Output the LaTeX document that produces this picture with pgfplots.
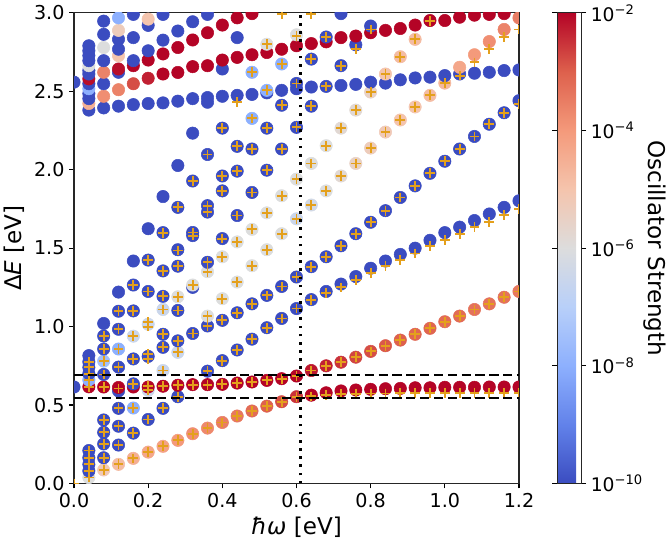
\documentclass[border=0pt]{standalone}
\usepackage{fontspec}
\setmainfont{DejaVu Sans}
\usepackage{pgfplots}
\pgfplotsset{compat=1.18}
\definecolor{plusc}{RGB}{228,160,28}
\begin{document}
\begin{tikzpicture}
\begin{axis}[
  scale only axis, width=337.5pt, height=357pt,
  xmin=0, xmax=1.2, ymin=0, ymax=3,
  clip marker paths=true,
  xtick={0,0.2,0.4,0.6,0.8,1.0,1.2}, xticklabels={0.0,0.2,0.4,0.6,0.8,1.0,1.2},
  ytick={0,0.5,1,1.5,2,2.5,3}, yticklabels={0.0,0.5,1.0,1.5,2.0,2.5,3.0},
  tick align=outside, tick pos=left, major tick length=3.75pt,
  tick style={line width=0.9pt, black},
  axis line style={line width=0.9pt, black!85},
  tick label style={font=\fontsize{14.5}{16}\selectfont},
  label style={font=\fontsize{17.5}{20}\selectfont},
  xlabel={{\itshape ħω} [eV]}, ylabel={Δ{\itshape E} [eV]},
  colormap={coolwarm}{rgb=(0.230,0.299,0.754) rgb=(0.383,0.509,0.917) rgb=(0.553,0.689,0.995) rgb=(0.722,0.814,0.977) rgb=(0.865,0.865,0.866) rgb=(0.959,0.770,0.678) rgb=(0.958,0.603,0.482) rgb=(0.869,0.378,0.300) rgb=(0.706,0.016,0.150)},
  point meta min=-10, point meta max=-2,
  colorbar,
  colorbar style={width=18.2pt, at={(parent axis.north east)}, anchor=north west, xshift=20.5pt,
    ytick={-10,-8,-6,-4,-2},
    yticklabels={10\textsuperscript{−10},10\textsuperscript{−8},10\textsuperscript{−6},10\textsuperscript{−4},10\textsuperscript{−2}},
    yticklabel pos=right, ylabel near ticks,
    ylabel={Oscillator Strength}, ylabel style={rotate=180, inner sep=0pt, yshift=-3pt},
    tick align=outside, major tick length=3.75pt,
    tick style={line width=0.9pt, black},
    axis line style={line width=0.9pt, black!85},
    tick label style={font=\fontsize{14.2}{16}\selectfont},
    label style={font=\fontsize{17.5}{20}\selectfont}},
]
\addplot[scatter, only marks, mark=*, mark size=4.7pt, point meta=explicit,
  scatter/use mapped color={draw=mapped color, fill=mapped color}]
  table[meta=c] {
x y c
0 0.615 -10
0 2.558 -10
0.04 0.038 -6
0.04 0.08 -10
0.04 0.122 -10
0.04 0.164 -10
0.04 0.21 -10
0.04 0.616 -2
0.04 0.66 -8
0.04 0.70 -10
0.04 0.74 -10
0.04 0.775 -10
0.04 0.815 -10
0.04 2.38 -10
0.04 2.422 -4.5
0.04 2.453 -10
0.04 2.485 -10
0.04 2.516 -8
0.04 2.548 -10
0.04 2.579 -2.1
0.04 2.61 -10
0.04 2.632 -10
0.04 2.663 -6
0.04 2.695 -10
0.04 2.727 -10
0.04 2.758 -10
0.04 2.79 -10
0.08 0.086 -5.2
0.08 0.164 -10
0.08 0.252 -10
0.08 0.326 -10
0.08 0.405 -10
0.08 0.615 -2
0.08 0.695 -10
0.08 0.78 -7.5
0.08 0.857 -10
0.08 0.94 -10
0.08 1.02 -10
0.08 2.394 -10
0.08 2.468 -3.8
0.08 2.548 -10
0.08 2.621 -3.6
0.08 2.695 -10
0.08 2.779 -6
0.08 2.863 -10
0.08 2.947 -10
0.12 0.122 -4.8
0.12 0.245 -10
0.12 0.365 -10
0.12 0.479 -10
0.12 0.59 -10
0.12 0.612 -2
0.12 0.742 -10
0.12 0.857 -8
0.12 0.983 -10
0.12 1.098 -10
0.12 1.22 -10
0.12 2.405 -10
0.12 2.51 -3.6
0.12 2.621 -10
0.12 2.642 -2.1
0.12 2.727 -5
0.12 2.768 -10
0.12 2.831 -10
0.12 2.888 -5.3
0.12 2.968 -8
0.16 0.16 -4.5
0.16 0.321 -10
0.16 0.481 -8
0.16 0.615 -2
0.16 0.635 -10
0.16 0.794 -10
0.16 0.939 -6.5
0.16 1.10 -10
0.16 1.265 -10
0.16 1.418 -10
0.16 2.415 -10
0.16 2.548 -2.8
0.16 2.663 -2
0.16 2.695 -10
0.16 2.842 -10
0.16 2.99 -10
0.16 3.01 -5
0.2 0.2 -4.3
0.2 0.408 -10
0.2 0.594 -6.5
0.2 0.615 -2
0.2 0.81 -10
0.2 1.015 -6.5
0.2 1.224 -10
0.2 1.424 -10
0.2 1.624 -10
0.2 2.422 -10
0.2 2.583 -2.3
0.2 2.699 -2
0.2 2.758 -10
0.2 2.92 -10
0.2 2.96 -5
0.24 0.237 -4.2
0.24 0.479 -10
0.24 0.62 -2
0.24 0.72 -6.5
0.24 0.868 -10
0.24 0.951 -10
0.24 1.109 -6.5
0.24 1.193 -10
0.24 1.355 -10
0.24 1.599 -10
0.24 1.829 -10
0.24 2.426 -10
0.24 2.61 -2
0.24 2.738 -2
0.24 2.826 -10
0.24 2.99 -10
0.28 0.275 -4
0.28 0.553 -10
0.28 0.626 -2
0.28 0.836 -6.5
0.28 0.909 -10
0.28 1.103 -10
0.28 1.19 -6
0.28 1.385 -10
0.28 1.49 -10
0.28 1.76 -10
0.28 2.027 -10
0.28 2.437 -10
0.28 2.62 -2
0.28 2.779 -2
0.28 2.884 -10
0.32 0.317 -3.8
0.32 0.63 -2
0.32 0.956 -10
0.32 1.25 -10
0.32 1.265 -6
0.32 1.58 -10
0.32 1.60 -10
0.32 1.928 -10
0.32 2.233 -10
0.32 2.453 -10
0.32 2.657 -2
0.32 2.827 -2
0.32 2.943 -10
0.36 0.353 -3.7
0.36 0.63 -2
0.36 0.716 -10
0.36 1.004 -10
0.36 1.067 -6
0.36 1.35 -6
0.36 1.41 -10
0.36 1.73 -10
0.36 1.771 -10
0.36 2.097 -10
0.36 2.43 -10
0.36 2.46 -10
0.36 2.663 -2
0.36 2.873 -2
0.36 2.99 -10
0.4 0.389 -3.5
0.4 0.632 -2
0.4 0.783 -10
0.4 1.04 -10
0.4 1.178 -6
0.4 1.445 -6
0.4 1.561 -10
0.4 1.865 -10
0.4 1.96 -10
0.4 2.265 -10
0.4 2.468 -10
0.4 2.642 -10
0.4 2.699 -2
0.4 2.922 -2
0.44 0.43 -3.4
0.44 0.64 -2
0.44 0.851 -10
0.44 1.088 -10
0.44 1.284 -6
0.44 1.54 -6
0.44 1.708 -10
0.44 1.991 -10
0.44 2.149 -10
0.44 2.474 -10
0.44 2.716 -2
0.44 2.842 -10
0.44 2.968 -2
0.48 0.462 -3.2
0.48 0.647 -2
0.48 0.92 -10
0.48 1.145 -10
0.48 1.388 -6
0.48 1.62 -6
0.48 1.855 -10
0.48 2.132 -10
0.48 2.327 -8
0.48 2.48 -10
0.48 2.621 -8
0.48 2.733 -2
0.48 2.995 -2
0.52 0.493 -3
0.52 0.657 -2
0.52 0.993 -10
0.52 1.199 -10
0.52 1.49 -6
0.52 1.725 -6
0.52 1.997 -10
0.52 2.265 -10
0.52 2.49 -10
0.52 2.506 -8
0.52 2.747 -2
0.52 2.80 -6
0.56 0.521 -2.8
0.56 0.668 -2
0.56 1.052 -10
0.56 1.256 -10
0.56 1.592 -6
0.56 1.834 -6
0.56 2.132 -10
0.56 2.411 -10
0.56 2.506 -10
0.56 2.674 -8
0.56 2.768 -2
0.6 0.553 -2.5
0.6 0.685 -2
0.6 1.115 -10
0.6 1.316 -10
0.6 1.687 -6.5
0.6 1.94 -6
0.6 2.27 -10
0.6 2.516 -10
0.6 2.55 -10
0.6 2.79 -2
0.6 2.86 -6
0.64 0.563 -2
0.64 0.72 -2.2
0.64 1.172 -10
0.64 1.382 -10
0.64 1.775 -6.3
0.64 2.04 -6
0.64 2.405 -10
0.64 2.527 -10
0.64 2.705 -10
0.64 2.804 -2
0.68 0.578 -2
0.68 0.75 -2.3
0.68 1.224 -10
0.68 1.445 -10
0.68 1.865 -6
0.68 2.153 -6
0.68 2.531 -10
0.68 2.815 -2
0.68 2.846 -10
0.72 0.59 -2
0.72 0.773 -2.5
0.72 1.271 -10
0.72 1.515 -10
0.72 1.96 -5.8
0.72 2.265 -5.8
0.72 2.537 -10
0.72 2.663 -10
0.72 2.842 -2
0.72 2.995 -10
0.76 0.596 -2
0.76 0.805 -2.7
0.76 1.319 -10
0.76 1.592 -10
0.76 2.04 -5.5
0.76 2.38 -5.8
0.76 2.544 -10
0.76 2.796 -10
0.76 2.852 -2
0.80 0.60 -2
0.80 0.842 -2.8
0.80 1.372 -10
0.80 1.665 -10
0.80 2.138 -5.3
0.80 2.495 -5.5
0.80 2.558 -10
0.80 2.873 -2
0.80 2.916 -10
0.84 0.604 -2
0.84 0.878 -2.9
0.84 1.418 -10
0.84 1.739 -10
0.84 2.24 -5.2
0.84 2.552 -10
0.84 2.61 -5
0.84 2.888 -2
0.88 0.606 -2
0.88 0.914 -3
0.88 1.46 -10
0.88 1.823 -10
0.88 2.317 -5
0.88 2.573 -10
0.88 2.72 -4.8
0.88 2.90 -2
0.92 0.61 -2
0.92 0.951 -3.1
0.92 1.50 -10
0.92 1.897 -10
0.92 2.40 -5
0.92 2.585 -10
0.92 2.831 -4.8
0.92 2.922 -2
0.96 0.61 -2
0.96 0.989 -3.1
0.96 1.55 -10
0.96 1.977 -10
0.96 2.474 -4.8
0.96 2.59 -10
0.96 2.951 -2
1.0 0.613 -2
1.0 1.031 -3.2
1.0 1.599 -10
1.0 2.054 -10
1.0 2.552 -4.7
1.0 2.60 -10
1.0 2.951 -2
1.04 0.613 -2
1.04 1.067 -3.2
1.04 1.634 -10
1.04 2.132 -10
1.04 2.61 -10
1.04 2.653 -4.3
1.04 2.972 -2
1.08 0.613 -2
1.08 1.109 -3.3
1.08 1.676 -10
1.08 2.212 -10
1.08 2.615 -10
1.08 2.733 -4
1.08 2.985 -2
1.12 0.615 -2
1.12 1.145 -3.3
1.12 1.718 -10
1.12 2.29 -10
1.12 2.621 -10
1.12 2.817 -3.8
1.12 2.99 -2
1.16 0.615 -2
1.16 1.187 -3.3
1.16 1.76 -10
1.16 2.363 -10
1.16 2.632 -10
1.16 2.894 -3.6
1.16 2.995 -2
1.2 0.615 -2
1.2 1.224 -3.4
1.2 1.802 -10
1.2 2.44 -10
1.2 2.636 -10
1.2 2.968 -3.5
};
\addplot[only marks, mark=+, mark size=3.7pt, plusc, mark options={line width=1.4pt}]
  table {
0 0
0.04 0.038
0.04 0.08
0.04 0.122
0.04 0.164
0.04 0.21
0.04 0.616
0.04 0.66
0.04 0.70
0.04 0.74
0.04 0.775
0.08 0.086
0.08 0.164
0.08 0.252
0.08 0.326
0.08 0.405
0.08 0.615
0.08 0.695
0.08 0.78
0.08 0.857
0.08 0.94
0.12 0.122
0.12 0.245
0.12 0.365
0.12 0.479
0.12 0.605
0.12 0.742
0.12 0.857
0.12 0.983
0.12 1.098
0.16 0.16
0.16 0.321
0.16 0.481
0.16 0.635
0.16 0.794
0.16 0.939
0.16 1.10
0.16 1.265
0.2 0.2
0.2 0.408
0.2 0.594
0.2 0.62
0.2 0.795
0.2 0.825
0.2 1.0
0.2 1.03
0.2 1.224
0.2 1.424
0.24 0.237
0.24 0.479
0.24 0.62
0.24 0.72
0.24 0.868
0.24 0.951
0.24 1.109
0.24 1.193
0.24 1.355
0.24 1.599
0.28 0.275
0.28 0.553
0.28 0.626
0.28 0.836
0.28 0.909
0.28 1.103
0.28 1.19
0.28 1.385
0.28 1.485
0.28 1.76
0.32 0.317
0.32 0.63
0.32 0.956
0.32 1.265
0.32 1.58
0.32 1.60
0.32 1.928
0.36 0.353
0.36 0.63
0.36 0.716
0.36 1.004
0.36 1.067
0.36 1.35
0.36 1.41
0.36 1.73
0.36 1.771
0.36 2.097
0.4 0.389
0.4 0.632
0.4 0.783
0.4 1.04
0.4 1.178
0.4 1.445
0.4 1.561
0.4 1.865
0.4 1.96
0.4 2.265
0.44 0.43
0.44 0.64
0.44 0.851
0.44 1.088
0.44 1.284
0.44 1.54
0.44 1.708
0.44 1.991
0.44 2.149
0.44 2.432
0.48 0.462
0.48 0.647
0.48 0.92
0.48 1.145
0.48 1.388
0.48 1.62
0.48 1.855
0.48 2.132
0.48 2.327
0.48 2.621
0.52 0.493
0.52 0.657
0.52 0.993
0.52 1.199
0.52 1.49
0.52 1.725
0.52 1.997
0.52 2.265
0.52 2.506
0.52 2.80
0.56 0.521
0.56 0.668
0.56 1.052
0.56 1.256
0.56 1.592
0.56 1.834
0.56 2.132
0.56 2.411
0.56 2.674
0.56 2.99
0.6 0.553
0.6 0.685
0.6 1.115
0.6 1.316
0.6 1.687
0.6 1.94
0.6 2.27
0.6 2.55
0.6 2.85
0.64 0.555
0.64 0.72
0.64 1.17
0.64 1.382
0.64 1.775
0.64 2.04
0.64 2.405
0.64 2.705
0.64 2.99
0.68 0.565
0.68 0.75
0.68 1.215
0.68 1.445
0.68 1.865
0.68 2.153
0.68 2.531
0.68 2.846
0.72 0.572
0.72 0.773
0.72 1.25
0.72 1.515
0.72 1.96
0.72 2.265
0.72 2.663
0.76 0.573
0.76 0.805
0.76 1.298
0.76 1.592
0.76 2.04
0.76 2.38
0.76 2.768
0.80 0.574
0.80 0.842
0.80 1.34
0.80 1.665
0.80 2.138
0.80 2.495
0.80 2.894
0.84 0.574
0.84 0.878
0.84 1.388
0.84 1.739
0.84 2.24
0.84 2.61
0.88 0.575
0.88 0.914
0.88 1.424
0.88 1.823
0.88 2.317
0.88 2.72
0.92 0.575
0.92 0.951
0.92 1.466
0.92 1.897
0.92 2.40
0.92 2.835
0.96 0.575
0.96 0.989
0.96 1.514
0.96 1.977
0.96 2.474
0.96 2.95
1.0 0.575
1.0 1.031
1.0 1.55
1.0 2.054
1.0 2.552
1.04 0.575
1.04 1.067
1.04 1.592
1.04 2.132
1.04 2.60
1.08 0.575
1.08 1.109
1.08 1.634
1.08 2.212
1.08 2.684
1.12 0.575
1.12 1.145
1.12 1.665
1.12 2.29
1.12 2.768
1.16 0.575
1.16 1.187
1.16 1.712
1.16 2.363
1.16 2.846
1.2 0.575
1.2 1.224
1.2 1.75
1.2 2.42
1.2 2.894
};
\addplot[black, line width=1.75pt, dash pattern=on 7pt off 3.5pt] coordinates {(0,0.693) (1.2,0.693)};
\addplot[black, line width=1.75pt, dash pattern=on 7pt off 3.5pt] coordinates {(0,0.547) (1.2,0.547)};
\addplot[black, line width=2pt, dash pattern=on 2pt off 4.2pt] coordinates {(0.611,0) (0.611,3)};
\end{axis}
\end{tikzpicture}
\end{document}
